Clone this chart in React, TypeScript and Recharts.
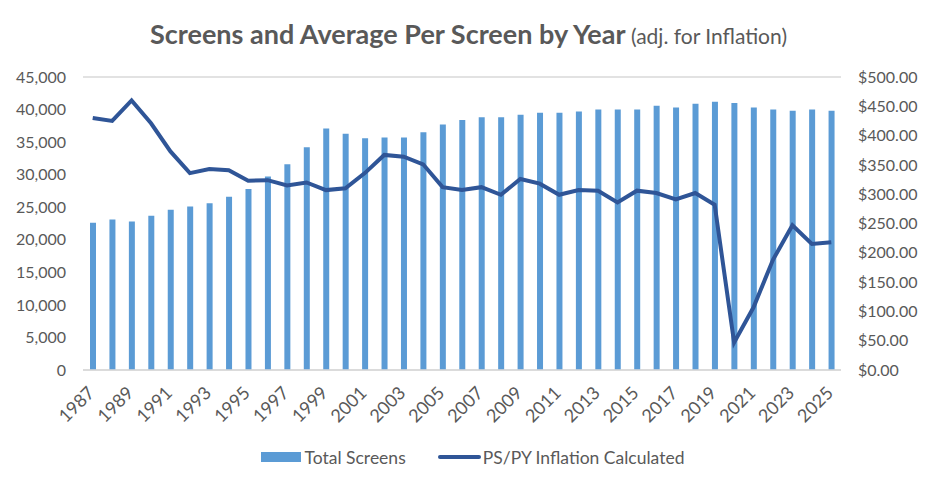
import React from 'react';
import { ComposedChart, Bar, Line, XAxis, YAxis, CartesianGrid, Legend } from 'recharts';

const years = [
  1987, 1988, 1989, 1990, 1991, 1992, 1993, 1994, 1995, 1996, 1997, 1998, 1999,
  2000, 2001, 2002, 2003, 2004, 2005, 2006, 2007, 2008, 2009, 2010, 2011, 2012,
  2013, 2014, 2015, 2016, 2017, 2018, 2019, 2020, 2021, 2022, 2023, 2024, 2025,
];

const totalScreens = [
  22600, 23100, 22800, 23700, 24600, 25100, 25600, 26600, 27800, 29700, 31600, 34200, 37100,
  36300, 35600, 35700, 35700, 36500, 37700, 38400, 38800, 38800, 39200, 39500, 39500, 39700,
  40000, 40000, 40000, 40600, 40300, 40900, 41200, 41000, 40300, 40000, 39800, 40000, 39800,
];

const perScreen = [
  430, 425, 460, 421, 373, 336, 343, 341, 323, 324, 315, 320, 307,
  310, 336, 367, 364, 351, 312, 307, 312, 299, 326, 318, 299, 307,
  306, 286, 306, 302, 291, 302, 282, 47, 107, 188, 247, 215, 218,
];

const leftTicks = [0, 5000, 10000, 15000, 20000, 25000, 30000, 35000, 40000, 45000];
const rightTicks = [0, 50, 100, 150, 200, 250, 300, 350, 400, 450, 500];

const data = years.map((year, i) => ({
  year,
  screens: totalScreens[i],
  ps: perScreen[i],
}));

const FONT = 'Lato, "Open Sans", sans-serif';
const TEXT = '#595959';
const BAR = '#5b9bd5';
const LINE = '#2f5597';

const YearTick = ({ x, y, payload }: any) => {
  const tx = x + 3;
  const ty = y + 16;
  return (
    <text
      x={tx}
      y={ty}
      transform={`rotate(-45 ${tx} ${ty})`}
      textAnchor="end"
      fill={TEXT}
      fontSize={18}
      fontFamily={FONT}
    >
      {payload.value}
    </text>
  );
};

const ChartLegend = () => (
  <div
    style={{
      display: 'flex',
      justifyContent: 'center',
      alignItems: 'center',
      height: 20,
      fontFamily: FONT,
      fontSize: 17.5,
      color: TEXT,
      paddingLeft: 8,
    }}
  >
    <span style={{ width: 40, height: 10, background: BAR, marginRight: 4 }} />
    <span>Total Screens</span>
    <span style={{ width: 43, height: 4, borderRadius: 2, background: LINE, marginLeft: 32, marginRight: 2 }} />
    <span>PS/PY Inflation Calculated</span>
  </div>
);

export default function App() {
  return (
    <div style={{ position: 'absolute', left: 0, top: 0, width: 937, height: 487, background: '#fff' }}>
      <div
        style={{
          position: 'absolute',
          left: 0,
          top: 17,
          width: 937,
          textAlign: 'center',
          fontFamily: FONT,
          color: TEXT,
          whiteSpace: 'nowrap',
          zIndex: 1,
        }}
      >
        <span style={{ fontSize: 27, fontWeight: 700 }}>Screens and Average Per Screen by Year</span>
        <span style={{ fontSize: 21 }}> (adj. for Inflation)</span>
      </div>
      <ComposedChart
        width={937}
        height={487}
        data={data}
        margin={{ top: 77, right: 0, left: 0, bottom: 20 }}
        barSize={6}
      >
        <CartesianGrid vertical={false} stroke="#d9d9d9" strokeWidth={1.5} />
        <XAxis
          dataKey="year"
          interval={1}
          height={77}
          tick={<YearTick />}
          tickLine={false}
          axisLine={{ stroke: '#d9d9d9', strokeWidth: 1.5 }}
        />
        <YAxis
          yAxisId="left"
          width={83}
          domain={[0, 45000]}
          ticks={leftTicks}
          tickFormatter={(v: number) => v.toLocaleString('en-US')}
          tick={{ fill: TEXT, fontSize: 16, fontFamily: FONT }}
          tickLine={false}
          axisLine={false}
          tickMargin={11}
        />
        <YAxis
          yAxisId="right"
          orientation="right"
          width={96}
          domain={[0, 500]}
          ticks={rightTicks}
          tickFormatter={(v: number) => `$${v.toFixed(2)}`}
          tick={{ fill: TEXT, fontSize: 16, fontFamily: FONT, textAnchor: 'start' }}
          tickLine={false}
          axisLine={false}
          tickMargin={11}
        />
        <Bar yAxisId="left" dataKey="screens" name="Total Screens" fill={BAR} isAnimationActive={false} />
        <Line
          yAxisId="right"
          type="linear"
          dataKey="ps"
          name="PS/PY Inflation Calculated"
          stroke={LINE}
          strokeWidth={4}
          dot={false}
          activeDot={false}
          isAnimationActive={false}
        />
        <Legend verticalAlign="bottom" content={<ChartLegend />} />
      </ComposedChart>
    </div>
  );
}
